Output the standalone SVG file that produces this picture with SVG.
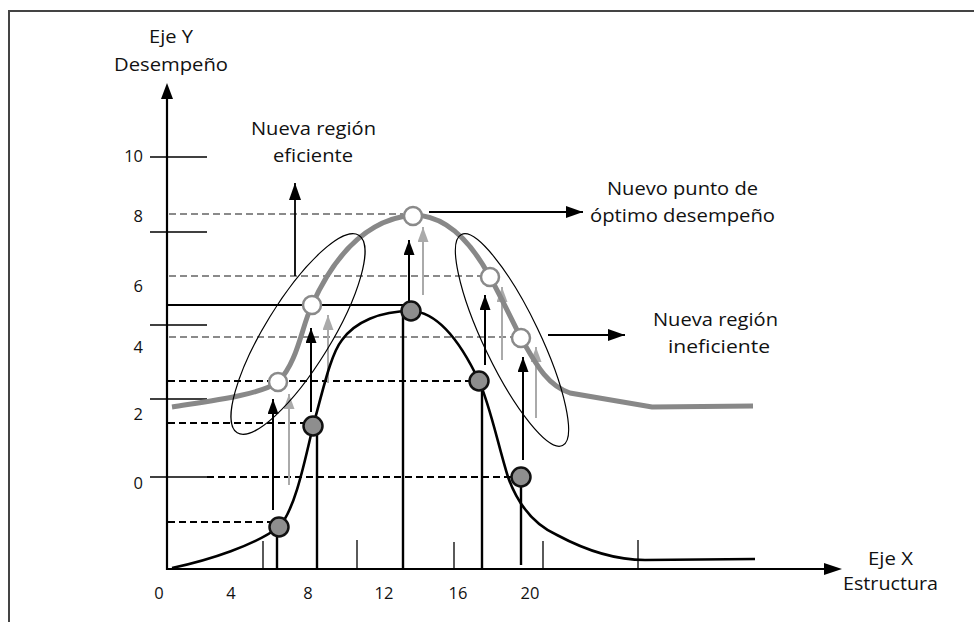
<svg xmlns="http://www.w3.org/2000/svg" width="974" height="622" viewBox="0 0 974 622">
<style>
text{font-family:"Open Sans","Liberation Sans",sans-serif;font-size:17.5px;fill:#111}
.num text{font-size:16.5px}
.ax{stroke:#000;stroke-width:2.2;fill:none}
.thin{stroke:#000;stroke-width:1.3;fill:none}
.bd{stroke:#000;stroke-width:1.8;stroke-dasharray:7 4;fill:none}
.gd{stroke:#8a8a8a;stroke-width:1.8;stroke-dasharray:7 4;fill:none}
.vl{stroke:#000;stroke-width:2.4;fill:none}
.ba{stroke:#000;stroke-width:2;fill:none;marker-end:url(#hb)}
.ga{stroke:#aaaaaa;stroke-width:2;fill:none;marker-end:url(#hg)}
.la{stroke:#000;stroke-width:1.8;fill:none;marker-end:url(#hb2)}
.gc{fill:#8e8e8e;stroke:#111;stroke-width:2.5}
.wc{fill:#fff;stroke:#8a8a8a;stroke-width:2.5}
.el{fill:none;stroke:#000;stroke-width:1.2}
</style>
<defs>
<marker id="hb" markerUnits="userSpaceOnUse" markerWidth="15" markerHeight="11" refX="15" refY="5.5" orient="auto"><path d="M0,0 L15,5.5 L0,11 z" fill="#000"/></marker>
<marker id="hg" markerUnits="userSpaceOnUse" markerWidth="15" markerHeight="11" refX="15" refY="5.5" orient="auto"><path d="M0,0 L15,5.5 L0,11 z" fill="#aaaaaa"/></marker>
<marker id="hb2" markerUnits="userSpaceOnUse" markerWidth="17" markerHeight="12" refX="17" refY="6" orient="auto"><path d="M0,0 L17,6 L0,12 z" fill="#000"/></marker>
</defs>
<rect width="974" height="622" fill="#fff"/>
<g id="frame"><path d="M974,11 L9,11 L9,622" fill="none" stroke="#444" stroke-width="2"/></g>
<g id="axes">
<line class="ax" x1="167" y1="570" x2="167" y2="99"/>
<path d="M161,99 L167,83 L173,99 z"/>
<line class="ax" x1="166" y1="569" x2="824" y2="569"/>
<path d="M824,563 L842,569 L824,575 z"/>
<g class="thin">
<line x1="150" y1="157" x2="207" y2="157"/>
<line x1="150" y1="232" x2="207" y2="232"/>
<line x1="150" y1="325" x2="207" y2="325"/>
<line x1="150" y1="399" x2="207" y2="399"/>
<line x1="150" y1="477" x2="207" y2="477"/>
<line x1="263" y1="541" x2="263" y2="569"/>
<line x1="357" y1="540" x2="357" y2="569"/>
<line x1="454" y1="542" x2="454" y2="569"/>
<line x1="543" y1="541" x2="543" y2="569"/>
<line x1="638" y1="540" x2="638" y2="569"/>
</g>
</g>
<g id="axis-labels">
<text x="149" y="43" textLength="44" lengthAdjust="spacingAndGlyphs">Eje Y</text>
<text x="114" y="71" textLength="114" lengthAdjust="spacingAndGlyphs">Desempeño</text>
<text x="868" y="565" textLength="45" lengthAdjust="spacingAndGlyphs">Eje X</text>
<text x="843" y="590" textLength="95" lengthAdjust="spacingAndGlyphs">Estructura</text>
<g class="num" text-anchor="end">
<text x="143" y="162">10</text>
<text x="143" y="222">8</text>
<text x="143" y="292">6</text>
<text x="143" y="353">4</text>
<text x="143" y="420">2</text>
<text x="143" y="489">0</text>
</g>
<g class="num" text-anchor="middle">
<text x="159" y="599">0</text>
<text x="231" y="599">4</text>
<text x="308" y="599">8</text>
<text x="384" y="599">12</text>
<text x="458" y="599">16</text>
<text x="530" y="599">20</text>
</g>
</g>
<g id="connectors">
<line class="gd" x1="169" y1="214" x2="403" y2="214"/>
<line class="gd" x1="169" y1="276" x2="481" y2="276"/>
<line class="gd" x1="169" y1="337" x2="512" y2="337"/>
<line class="bd" x1="168" y1="381" x2="470" y2="381"/>
<line class="bd" x1="168" y1="423" x2="304" y2="423"/>
<line class="bd" x1="207" y1="477" x2="512" y2="477"/>
<line class="bd" x1="168" y1="522" x2="270" y2="522"/>
<line class="ax" x1="167" y1="305" x2="403" y2="305"/>
<line class="vl" x1="277" y1="569" x2="277" y2="530"/>
<line class="vl" x1="317" y1="569" x2="317" y2="426"/>
<line class="vl" x1="403" y1="569" x2="403" y2="305"/>
<line class="vl" x1="482" y1="569" x2="482" y2="381"/>
<line class="vl" x1="521" y1="565" x2="521" y2="477"/>
<line class="ba" x1="273" y1="510" x2="273" y2="399"/>
<line class="ba" x1="311" y1="412" x2="311" y2="328"/>
<line class="ba" x1="409" y1="306" x2="409" y2="240"/>
<line class="ba" x1="485" y1="365" x2="485" y2="295"/>
<line class="ba" x1="523" y1="460" x2="523" y2="357"/>
<line class="ga" x1="289" y1="485" x2="289" y2="394"/>
<line class="ga" x1="328" y1="383" x2="328" y2="315"/>
<line class="ga" x1="423" y1="295" x2="423" y2="227"/>
<line class="ga" x1="502" y1="360" x2="502" y2="287"/>
<line class="ga" x1="536" y1="418" x2="536" y2="347"/>
<line class="la" x1="295" y1="276" x2="295" y2="183"/>
<line class="la" x1="429" y1="212" x2="583" y2="212"/>
<line class="la" x1="548" y1="335" x2="625" y2="335"/>
</g>
<g id="curves">
<path id="curve-new" d="M172,407 C210,401 260,395 278,382 C298,362 302,325 312,305 C330,265 360,220 413,215 C445,215 470,240 490,277 C500,295 512,320 521,338 C535,362 546,385 570,393 L652,407 L753,406" fill="none" stroke="#888" stroke-width="5"/>
<path id="curve-old" d="M172,568 C210,560 255,545 279,527 C295,510 305,460 313,426 C322,395 330,355 342,340 C355,322 380,311 411,311 C440,312 462,345 479,381 C490,405 498,445 508,477 C518,505 535,525 557,535 C585,550 615,560 645,560 L755,559" fill="none" stroke="#000" stroke-width="2.6"/>
</g>
<g id="region-efficient"><ellipse class="el" cx="298" cy="334" rx="116" ry="33" transform="rotate(-58.4 298 334)"/></g>
<g id="region-inefficient"><ellipse class="el" cx="512" cy="340" rx="117" ry="28" transform="rotate(64.4 512 340)"/></g>
<g id="points-old">
<circle class="gc" cx="279" cy="527" r="9.5"/>
<circle class="gc" cx="313" cy="426" r="9.5"/>
<circle class="gc" cx="411" cy="311" r="9.5"/>
<circle class="gc" cx="479" cy="381" r="9.5"/>
<circle class="gc" cx="521" cy="477" r="9.5"/>
</g>
<g id="points-new">
<circle class="wc" cx="278" cy="382" r="9"/>
<circle class="wc" cx="312" cy="305" r="9"/>
<circle class="wc" cx="413" cy="216" r="9"/>
<circle class="wc" cx="490" cy="277" r="9"/>
<circle class="wc" cx="521" cy="338" r="9"/>
</g>
<g id="label-efficient">
<text x="251" y="135" textLength="125" lengthAdjust="spacingAndGlyphs">Nueva región</text>
<text x="273" y="162" textLength="80" lengthAdjust="spacingAndGlyphs">eficiente</text>
</g>
<g id="label-optimum">
<text x="607" y="195" textLength="151" lengthAdjust="spacingAndGlyphs">Nuevo punto de</text>
<text x="590" y="222" textLength="185" lengthAdjust="spacingAndGlyphs">óptimo desempeño</text>
</g>
<g id="label-inefficient">
<text x="653" y="326" textLength="125" lengthAdjust="spacingAndGlyphs">Nueva región</text>
<text x="668" y="353" textLength="102" lengthAdjust="spacingAndGlyphs">ineficiente</text>
</g>
</svg>
